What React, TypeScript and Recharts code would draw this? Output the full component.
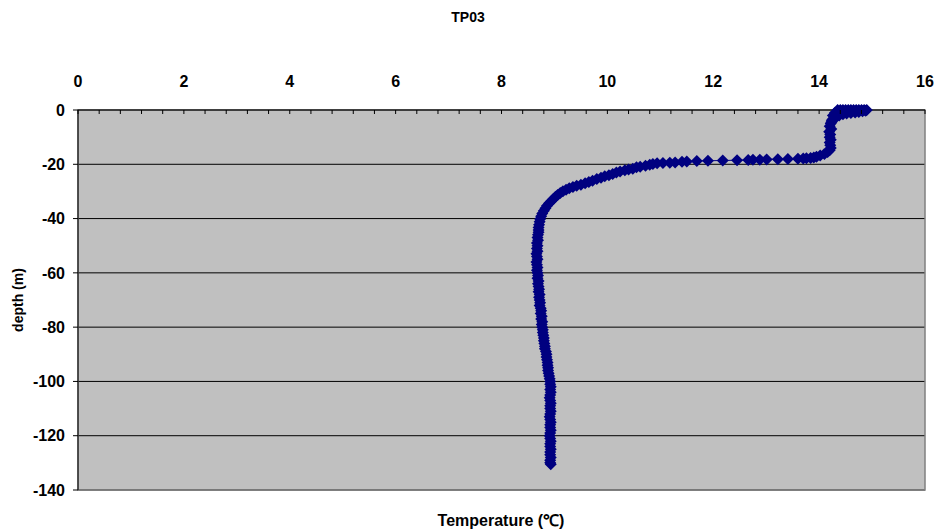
import React from "react";
import {
  CartesianGrid,
  ReferenceArea,
  Scatter,
  ScatterChart,
  XAxis,
  YAxis,
} from "recharts";

const NAVY = "#000080";
const FONT = "'Liberation Sans', Arial, sans-serif";

// surface mixed layer (0 to ~-18 m)
const SURFACE_DEPTH = [
  0, 0, 0, 0, 0, 0, 0, 0, 0, 0, 0, 0, -0.3, -0.5, -0.7, -0.9, -1.1, -1.3, -1.6, -2.0, -1.0, -2.0,
  -2.5, -3.0, -3.5, -4, -4.5, -5, -6, -7, -8, -9, -10, -11, -12, -13, -14, -14.8, -15.5, -16.2,
  -16.8, -17.2, -17.5, -17.7, -17.8, -17.9,
];
const SURFACE_TEMP = [
  14.35, 14.4, 14.45, 14.5, 14.55, 14.6, 14.65, 14.7, 14.75, 14.8, 14.85, 14.9, 14.88, 14.82,
  14.75, 14.68, 14.6, 14.52, 14.45, 14.38, 14.3, 14.26, 14.33, 14.28, 14.25, 14.24, 14.23, 14.22,
  14.2, 14.23, 14.19, 14.21, 14.2, 14.22, 14.2, 14.21, 14.22, 14.2, 14.16, 14.1, 14.02, 13.95,
  13.9, 13.84, 13.76, 13.7,
];

// thermocline (~-18 to -44 m)
const THERMO_DEPTH = [
  -18.0, -18.05, -18.1, -18.2, -18.3, -18.35, -18.4, -18.5, -18.6, -18.7, -18.8, -19.0, -19.1,
  -19.3, -19.4, -19.5, -19.6, -19.9, -20.2, -20.5, -20.9, -21.1, -21.6, -21.9, -22.2, -22.7,
  -23.0, -23.6, -24.0, -24.4, -25.0, -25.4, -26.1, -26.5, -27.0, -27.5, -27.9, -28.4, -28.8,
  -29.4, -29.9, -30.6, -31.3, -32.0, -32.8, -33.6, -34.4, -35.3, -36.2, -37.1, -38.1, -39.1,
  -40.2, -41.2, -42.3, -43.3, -44.2,
];
const THERMO_TEMP = [
  13.6, 13.41, 13.22, 13.01, 12.88, 12.75, 12.66, 12.45, 12.18, 11.9, 11.69, 11.5, 11.41, 11.28,
  11.18, 11.05, 10.94, 10.86, 10.8, 10.72, 10.62, 10.55, 10.48, 10.4, 10.33, 10.24, 10.17, 10.1,
  10.03, 9.95, 9.88, 9.8, 9.72, 9.65, 9.58, 9.5, 9.42, 9.35, 9.28, 9.22, 9.16, 9.11, 9.06, 9.02,
  8.98, 8.94, 8.9, 8.86, 8.83, 8.8, 8.77, 8.75, 8.73, 8.72, 8.71, 8.7, 8.7,
];

// deep layer (-45 to -130.5 m)
const DEEP_DEPTH = [
  -45, -46, -47, -48, -49, -50, -51, -52, -53, -54, -55, -56, -57, -58, -59, -60, -61, -62, -63,
  -64, -65, -66, -67, -68, -69, -70, -71, -72, -73, -74, -75, -76, -77, -78, -79, -80, -81, -82,
  -83, -84, -85, -86, -87, -88, -89, -90, -91, -92, -93, -94, -95, -96, -97, -98, -99, -100, -101,
  -102, -103, -104, -105, -106, -107, -108, -109, -110, -111, -112, -113, -114, -115, -116, -117,
  -118, -119, -120, -121, -122, -123, -124, -125, -126, -127, -128, -129, -130, -130.5,
];
const DEEP_TEMP = [
  8.7, 8.69, 8.68, 8.69, 8.67, 8.68, 8.67, 8.68, 8.66, 8.67, 8.68, 8.66, 8.67, 8.68, 8.67, 8.68,
  8.69, 8.68, 8.7, 8.69, 8.7, 8.71, 8.7, 8.72, 8.71, 8.72, 8.73, 8.72, 8.74, 8.75, 8.74, 8.76,
  8.75, 8.77, 8.76, 8.77, 8.78, 8.78, 8.79, 8.8, 8.8, 8.81, 8.82, 8.82, 8.84, 8.85, 8.85, 8.86,
  8.87, 8.87, 8.88, 8.88, 8.89, 8.9, 8.91, 8.92, 8.92, 8.93, 8.92, 8.93, 8.92, 8.91, 8.92, 8.93,
  8.92, 8.92, 8.93, 8.92, 8.91, 8.92, 8.93, 8.92, 8.92, 8.93, 8.92, 8.91, 8.92, 8.93, 8.92, 8.92,
  8.93, 8.92, 8.92, 8.93, 8.92, 8.92, 8.93,
];

const X_TICKS = [
  0, 0.4, 0.8, 1.2, 1.6, 2, 2.4, 2.8, 3.2, 3.6, 4, 4.4, 4.8, 5.2, 5.6, 6, 6.4, 6.8, 7.2, 7.6, 8,
  8.4, 8.8, 9.2, 9.6, 10, 10.4, 10.8, 11.2, 11.6, 12, 12.4, 12.8, 13.2, 13.6, 14, 14.4, 14.8, 15.2,
  15.6, 16,
];
const Y_TICKS = [-140, -120, -100, -80, -60, -40, -20, 0];

const data = [
  ...SURFACE_DEPTH.map((d, i) => ({ depth: d, temp: SURFACE_TEMP[i] })),
  ...THERMO_DEPTH.map((d, i) => ({ depth: d, temp: THERMO_TEMP[i] })),
  ...DEEP_DEPTH.map((d, i) => ({ depth: d, temp: DEEP_TEMP[i] })),
];

function Diamond(props: any) {
  const { cx, cy } = props;
  const r = 6;
  return (
    <path
      d={`M${cx},${cy - r}L${cx + r},${cy}L${cx},${cy + r}L${cx - r},${cy}Z`}
      fill={NAVY}
    />
  );
}

function TopTick(props: any) {
  const { x, y, payload } = props;
  const v = payload.value;
  const major = Math.abs(v / 2 - Math.round(v / 2)) < 1e-6;
  return (
    <g>
      <line x1={x} x2={x} y1={y} y2={y + 4} stroke="#000" />
      {major && (
        <text
          x={x}
          y={y - 23}
          textAnchor="middle"
          fontSize={16}
          fontWeight="bold"
          fontFamily={FONT}
          fill="#000"
        >
          {Math.round(v)}
        </text>
      )}
    </g>
  );
}

export default function App() {
  return (
    <div
      style={{
        position: "absolute",
        left: 0,
        top: 0,
        width: 936,
        height: 531,
        background: "#fff",
        fontFamily: FONT,
      }}
    >
      <div
        style={{
          position: "absolute",
          top: 9,
          width: 936,
          textAlign: "center",
          fontSize: 14,
          fontWeight: "bold",
        }}
      >
        TP03
      </div>
      <ScatterChart
        width={936}
        height={531}
        margin={{ top: 10, right: 11, bottom: 41, left: 18 }}
      >
        <CartesianGrid
          horizontal
          vertical={false}
          stroke="#000"
          strokeOpacity={1}
          fill="#C0C0C0"
          fillOpacity={1}
        />
        <XAxis
          type="number"
          dataKey="temp"
          orientation="top"
          domain={[0, 16]}
          ticks={X_TICKS}
          interval={0}
          height={100}
          tickLine={false}
          tickSize={0}
          tickMargin={0}
          axisLine={{ stroke: "#000" }}
          tick={<TopTick />}
        />
        <YAxis
          type="number"
          dataKey="depth"
          domain={[-140, 0]}
          ticks={Y_TICKS}
          interval={0}
          width={60}
          tickSize={5}
          tickMargin={8}
          tickLine={{ stroke: "#000" }}
          axisLine={{ stroke: "#000" }}
          tick={{ fontSize: 16, fontWeight: "bold", fill: "#000", fontFamily: FONT }}
        />
        <ReferenceArea
          x1={0}
          x2={16}
          y1={-140}
          y2={0}
          fill="none"
          stroke="#808080"
          strokeWidth={1.5}
          ifOverflow="visible"
        />
        <Scatter
          data={data}
          shape={<Diamond />}
          line={{ stroke: NAVY, strokeWidth: 1 }}
          isAnimationActive={false}
        />
      </ScatterChart>
      <div
        style={{
          position: "absolute",
          top: 509,
          left: 0,
          width: 1002,
          textAlign: "center",
          fontSize: 16,
          fontWeight: "bold",
        }}
      >
        Temperature (℃)
      </div>
      <div
        style={{
          position: "absolute",
          left: 18,
          top: 300,
          transform: "translate(-50%, -50%) rotate(-90deg)",
          whiteSpace: "nowrap",
          fontSize: 14,
          fontWeight: "bold",
        }}
      >
        depth (m)
      </div>
    </div>
  );
}
